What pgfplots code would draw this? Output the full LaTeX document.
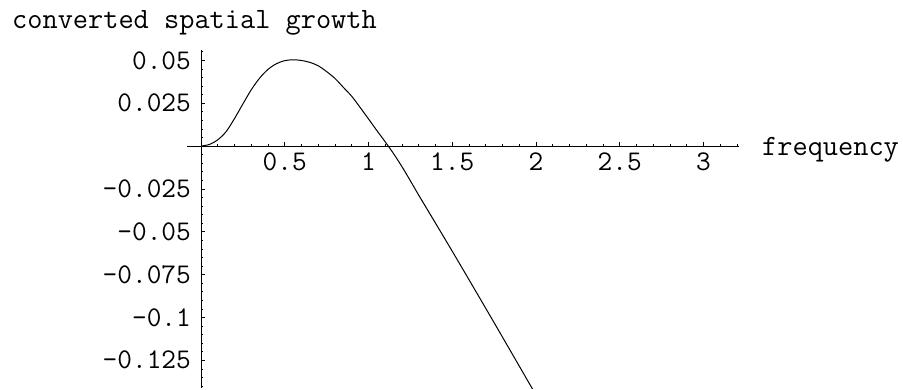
\documentclass[border=0pt]{standalone}
\usepackage{pgfplots}
\pgfplotsset{compat=1.18}

% growth rate versus frequency
\pgfplotstableread{
x      y
0      0
0.05   0.0009
0.1    0.0036
0.15   0.0084
0.2    0.0160
0.25   0.0245
0.3    0.0328
0.35   0.0396
0.4    0.0447
0.45   0.0480
0.5    0.0498
0.55   0.0503
0.6    0.0499
0.65   0.0488
0.7    0.0468
0.75   0.0434
0.8    0.0394
0.85   0.0342
0.9    0.0290
0.95   0.0225
1.0    0.0158
1.05   0.0090
1.1    0.0024
1.15  -0.0045
1.2   -0.0121
1.25  -0.0203
1.3   -0.0287
1.4   -0.0450
1.5   -0.0614
1.6   -0.0780
1.7   -0.0947
1.8   -0.1115
1.9   -0.1284
2.0   -0.1453
}\growth

\begin{document}
\begin{tikzpicture}
\useasboundingbox (-201pt,146pt) rectangle (702pt,-243pt);
\begin{axis}[
  anchor=origin, at={(0pt,0pt)},
  x=167.5pt, y=1714pt,
  xmin=-0.084, xmax=3.21, ymin=-0.1414, ymax=0.0558,
  axis lines=middle,
  axis line style={-, line width=0.7pt},
  xtick={0.5,1,1.5,2,2.5,3},
  xticklabels={0.5,1,1.5,2,2.5,3},
  minor xtick={0.1,0.2,0.3,0.4,0.6,0.7,0.8,0.9,1.1,1.2,1.3,1.4,1.6,1.7,1.8,1.9,2.1,2.2,2.3,2.4,2.6,2.7,2.8,2.9,3.1,3.2},
  ytick={-0.125,-0.1,-0.075,-0.05,-0.025,0.025,0.05},
  yticklabels={-0.125,-0.1,-0.075,-0.05,-0.025,0.025,0.05},
  minor ytick={-0.14,-0.135,-0.13,-0.12,-0.115,-0.11,-0.105,-0.095,-0.09,-0.085,-0.08,-0.07,-0.065,-0.06,-0.055,-0.045,-0.04,-0.035,-0.03,-0.02,-0.015,-0.01,-0.005,0.005,0.01,0.015,0.02,0.03,0.035,0.04,0.045,0.055},
  tick align=inside,
  major tick length=4.5pt, minor tick length=2.5pt,
  tick style={black, line width=0.6pt},
  tick label style={font=\ttfamily\fontsize{28.5}{28.5}\selectfont, inner sep=0pt},
  xticklabel style={anchor=base, yshift=-24pt},
  yticklabel style={anchor=east, xshift=-10pt},
]
\addplot[black, line width=1pt, smooth] table[x=x, y=y] {\growth};
\end{axis}
\node[anchor=base west, inner sep=0pt, font=\ttfamily\fontsize{29.5}{29.5}\selectfont] at (-189pt,118pt) {converted spatial growth};
\node[anchor=base west, inner sep=0pt, font=\ttfamily\fontsize{29.5}{29.5}\selectfont] at (561pt,-9pt) {frequency};
\end{tikzpicture}
\end{document}
